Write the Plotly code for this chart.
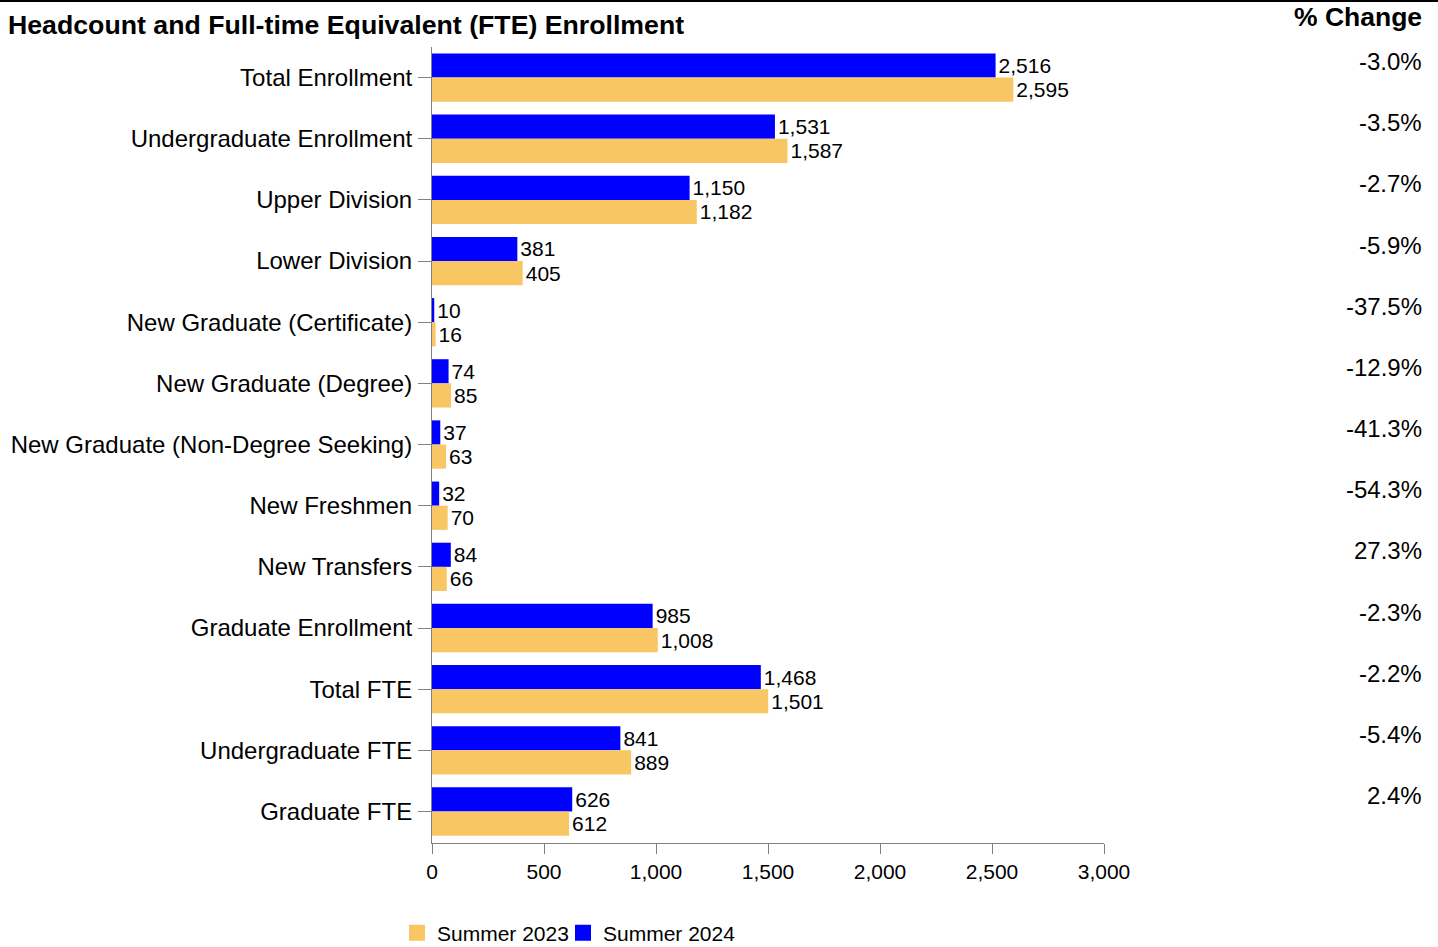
import plotly.graph_objects as go

categories = ["Total Enrollment", "Undergraduate Enrollment", "Upper Division", "Lower Division",
              "New Graduate (Certificate)", "New Graduate (Degree)", "New Graduate (Non-Degree Seeking)",
              "New Freshmen", "New Transfers", "Graduate Enrollment", "Total FTE",
              "Undergraduate FTE", "Graduate FTE"]
summer_2023 = [2595, 1587, 1182, 405, 16, 85, 63, 70, 66, 1008, 1501, 889, 612]
summer_2024 = [2516, 1531, 1150, 381, 10, 74, 37, 32, 84, 985, 1468, 841, 626]
pct_change = ["-3.0%", "-3.5%", "-2.7%", "-5.9%", "-37.5%", "-12.9%", "-41.3%",
              "-54.3%", "27.3%", "-2.3%", "-2.2%", "-5.4%", "2.4%"]

BLUE = "#0000FF"
ORANGE = "#F8C663"
FONT = "Liberation Sans, Arial, sans-serif"
W, H = 1438, 1020
PLOT_L, PLOT_R, PLOT_T, PLOT_B = 432, 1104, 47, 843
pw, ph = PLOT_R - PLOT_L, PLOT_B - PLOT_T

fig = go.Figure()
fig.add_trace(go.Bar(y=categories, x=summer_2024, orientation="h", name="Summer 2024",
                     marker_color=BLUE, marker_line_width=0, texttemplate="%{x:,}",
                     textposition="outside", cliponaxis=False, showlegend=False,
                     textfont=dict(size=21, color="black", family=FONT)))
fig.add_trace(go.Bar(y=categories, x=summer_2023, orientation="h", name="Summer 2023",
                     marker_color=ORANGE, marker_line_width=0, texttemplate="%{x:,}",
                     textposition="outside", cliponaxis=False, showlegend=False,
                     textfont=dict(size=21, color="black", family=FONT)))

# legend entries with larger square swatches (one legend box each for exact spacing)
for nm, col, lg in [("Summer 2023", ORANGE, "legend"), ("Summer 2024", BLUE, "legend2")]:
    fig.add_trace(go.Scatter(x=[None], y=[None], mode="markers", name=nm, legend=lg,
                             marker=dict(symbol="square", size=20, color=col), showlegend=True))

for c, p in zip(categories, pct_change):
    fig.add_annotation(x=(1424 - PLOT_L) / pw, xref="paper", y=c, yref="y", text=p,
                       showarrow=False, xanchor="right", yanchor="middle", yshift=16,
                       font=dict(size=24, color="black", family=FONT))

fig.add_annotation(x=(1424 - PLOT_L) / pw, xref="paper", y=1 + (PLOT_T - 17) / ph, yref="paper",
                   text="<b>% Change</b>", showarrow=False, xanchor="right", yanchor="middle",
                   font=dict(size=26.5, color="black", family=FONT))

fig.add_shape(type="line", xref="paper", yref="paper", x0=-PLOT_L / pw, x1=(W - PLOT_L) / pw,
              y0=1 + (PLOT_T - 1) / ph, y1=1 + (PLOT_T - 1) / ph, line=dict(color="black", width=2))

legend_common = dict(orientation="h", xanchor="left", y=-(933 - PLOT_B) / ph, yanchor="middle",
                     font=dict(size=21, color="black", family=FONT), itemwidth=30,
                     borderwidth=0, bgcolor="rgba(0,0,0,0)")

fig.update_layout(
    width=W, height=H,
    margin=dict(l=PLOT_L, r=W - PLOT_R, t=PLOT_T, b=H - PLOT_B, pad=0),
    paper_bgcolor="white", plot_bgcolor="white",
    barmode="group", bargap=0.21, bargroupgap=0,
    font=dict(family=FONT, size=21, color="black"),
    title=dict(text="<b>Headcount and Full-time Equivalent (FTE) Enrollment</b>",
               x=8 / W, xref="container", xanchor="left", y=1 - 25 / H, yref="container",
               yanchor="middle", font=dict(size=26.7, color="black", family=FONT)),
    showlegend=True,
    legend=dict(x=(397 - PLOT_L) / pw, **legend_common),
    legend2=dict(x=(563 - PLOT_L) / pw, **legend_common),
    xaxis=dict(range=[0, 3000], dtick=500, tickformat=",", showgrid=False, zeroline=False,
               showline=True, linecolor="#808080", linewidth=1, ticks="outside",
               ticklen=10, tickcolor="#808080", tickfont=dict(size=21)),
    yaxis=dict(autorange="reversed", showgrid=False, zeroline=False, showline=True,
               linecolor="#808080", linewidth=1, ticks="outside", ticklen=13,
               tickcolor="#808080", tickfont=dict(size=24), ticklabelstandoff=1),
)

fig.write_html("out.html", config={"displayModeBar": False},
               post_script="document.body.style.margin='0';")
